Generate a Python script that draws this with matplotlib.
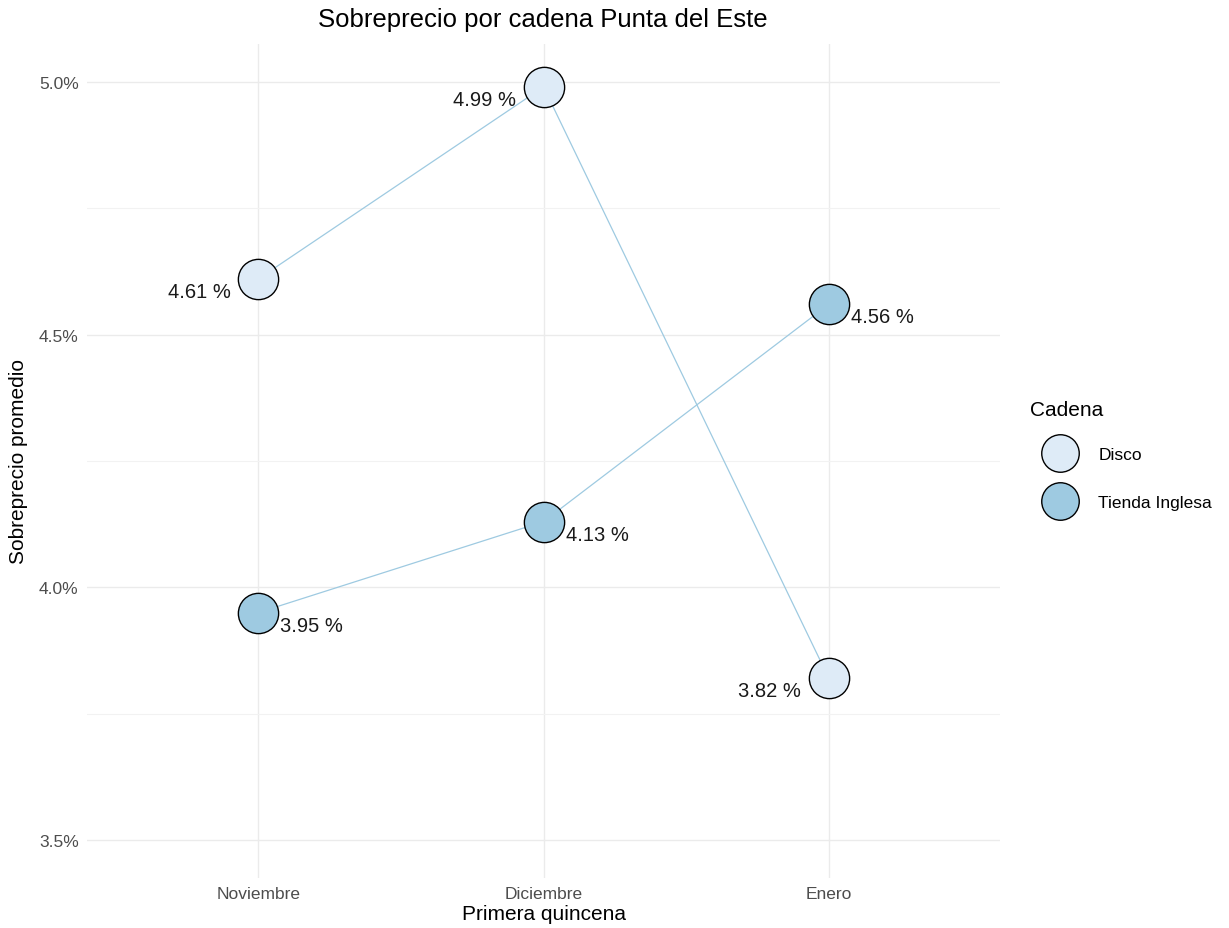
import matplotlib.pyplot as plt
from matplotlib.lines import Line2D

plt.rcParams['font.family'] = ['Liberation Sans', 'DejaVu Sans']

months = ['Noviembre', 'Diciembre', 'Enero']
disco = [4.61, 4.99, 3.82]
tienda = [3.95, 4.13, 4.56]
chains = ['Disco', 'Tienda Inglesa']
colors = ['#DEEBF7', '#9ECAE1']
y_ticks = [3.5, 4.0, 4.5, 5.0]
y_minor = [3.75, 4.25, 4.75]

fig = plt.figure(figsize=(12.29, 9.29), dpi=100)
ax = fig.add_axes([0.0708, 0.0538, 0.7429, 0.8978])

x = list(range(len(months)))

for xi in x:
    ax.axvline(xi, color='#EBEBEB', lw=1, zorder=0)
for yv in y_ticks:
    ax.axhline(yv, color='#EBEBEB', lw=1, zorder=0)
for yv in y_minor:
    ax.axhline(yv, color='#F2F2F2', lw=0.8, zorder=0)

# lines first, then points
ax.plot(x, disco, color='#9ECAE1', lw=0.9, zorder=1)
ax.plot(x, tienda, color='#9ECAE1', lw=0.9, zorder=1)
ax.plot(x, disco, 'o', ms=29, mfc=colors[0], mec='black', mew=1, ls='none', zorder=2)
ax.plot(x, tienda, 'o', ms=29, mfc=colors[1], mec='black', mew=1, ls='none', zorder=2)

for xi, v in zip(x, disco):
    ax.annotate(f'{v:.2f} %', (xi, v), xytext=(-20, -9), textcoords='offset points',
                ha='right', va='center', fontsize=14.5, color='#1A1A1A')
for xi, v in zip(x, tienda):
    ax.annotate(f'{v:.2f} %', (xi, v), xytext=(16, -9), textcoords='offset points',
                ha='left', va='center', fontsize=14.5, color='#1A1A1A')

ax.set_xlim(-0.6, 2.6)
ax.set_ylim(3.425, 5.075)
ax.set_xticks(x)
ax.set_xticklabels(months)
ax.set_yticks(y_ticks)
ax.set_yticklabels([f'{v:.1f}%' for v in y_ticks])
ax.tick_params(length=0, labelsize=12.5, colors='#4D4D4D', pad=6)
for s in ax.spines.values():
    s.set_visible(False)

ax.set_xlabel('Primera quincena', fontsize=15, color='black', labelpad=2)
ax.set_ylabel('Sobreprecio promedio', fontsize=15, color='black', labelpad=8)
fig.text(0.442, 0.978, 'Sobreprecio por cadena Punta del Este', ha='center', va='center',
         fontsize=18.5)

# legend: title as separate text so the gap can be matched
fig.text(0.838, 0.558, 'Cadena', ha='left', va='center', fontsize=15)
handles = [Line2D([], [], marker='o', ls='none', ms=27, mfc=c, mec='black', mew=1) for c in colors]
leg = fig.legend(handles, chains, loc='upper left',
                 bbox_to_anchor=(0.8385, 0.527), frameon=False, fontsize=12.5,
                 labelspacing=1.9, handletextpad=1.0, borderpad=0,
                 handlelength=2.4)

fig.savefig('out.png', dpi=100)
